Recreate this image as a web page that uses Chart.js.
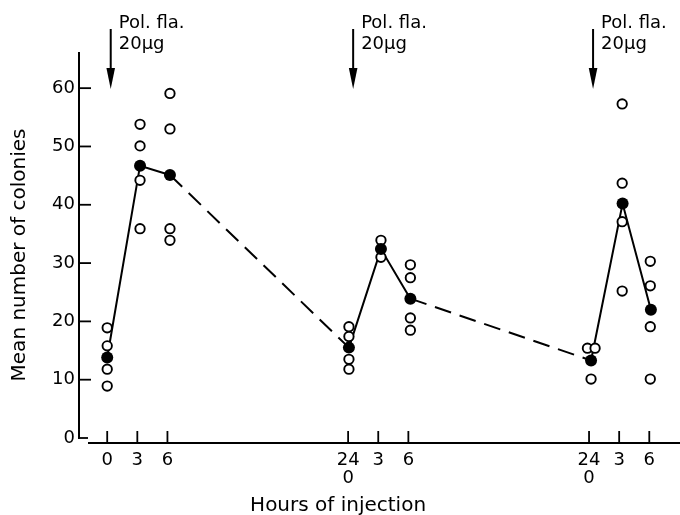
<!DOCTYPE html>
<html>
<head>
<meta charset="utf-8">
<script src="https://cdn.jsdelivr.net/npm/chart.js@4.4.1/dist/chart.umd.min.js"></script>
<style>
html,body{margin:0;padding:0;background:#fff;}
canvas{display:block;}
</style>
</head>
<body>
<canvas id="c" width="680" height="515"></canvas>
<script>
// ---- data ----
const hours = [0, 3, 6, 24, 27, 30, 48, 51, 54];
const tickLabels = ['0', '3', '6', ['24', '0'], '3', '6', ['24', '0'], '3', '6'];
const yTicks = [0, 10, 20, 30, 40, 50, 60];

const meanHours = [0, 3.27, 6.25, 24.08, 27.27, 30.2, 48.2, 51.34, 54.16];
const meanColonies = [13.8, 46.7, 45.1, 15.5, 32.4, 23.9, 13.3, 40.2, 22.0];

const sampleHours = [
  0, 0, 0, 0,
  3.27, 3.27, 3.27, 3.27,
  6.25, 6.25, 6.25, 6.25,
  24.08, 24.08, 24.08, 24.08,
  27.27, 27.27,
  30.2, 30.2, 30.2, 30.2,
  47.84, 48.6, 48.2,
  51.3, 51.3, 51.3, 51.3,
  54.1, 54.1, 54.1, 54.1
];
const sampleColonies = [
  18.9, 15.8, 11.8, 8.9,
  53.8, 50.1, 44.2, 35.9,
  59.1, 53.0, 35.9, 33.9,
  19.1, 17.4, 13.5, 11.8,
  33.9, 31.0,
  29.7, 27.5, 20.6, 18.5,
  15.4, 15.4, 10.1,
  57.3, 43.7, 37.1, 25.2,
  30.3, 26.1, 19.1, 10.1
];

const injectionHours = [0.35, 24.5, 48.4];
const injectionText = ['Pol. fla.', '20\u03bcg'];
const xTitle = 'Hours of injection';
const yTitle = 'Mean number of colonies';

const FONT = "'DejaVu Sans', 'Liberation Sans', sans-serif";

const meanPts = meanHours.map((x, i) => ({x: x, y: meanColonies[i]}));
const samplePts = sampleHours.map((x, i) => ({x: x, y: sampleColonies[i]}));

const axesPlugin = {
  id: 'customAxes',
  beforeDatasetsDraw(chart) {
    const ctx = chart.ctx;
    const xs = chart.scales.x, ys = chart.scales.y;
    const a = chart.chartArea;
    const L = a.left;
    const y0 = ys.getPixelForValue(0);
    ctx.save();
    ctx.strokeStyle = '#000';
    ctx.lineCap = 'butt';
    // y axis
    ctx.lineWidth = 2;
    ctx.beginPath();
    ctx.moveTo(L, a.top);
    ctx.lineTo(L, y0 + 1);
    ctx.stroke();
    ctx.lineWidth = 1.8;
    yTicks.forEach(v => {
      const py = ys.getPixelForValue(v);
      ctx.beginPath();
      ctx.moveTo(L, py);
      ctx.lineTo(L + (v === 0 ? 9 : 12), py);
      ctx.stroke();
    });
    // x axis (slightly below zero, detached from y axis)
    const xa = y0 + 5;
    ctx.lineWidth = 2.2;
    ctx.beginPath();
    ctx.moveTo(L + 9, xa);
    ctx.lineTo(chart.width, xa);
    ctx.stroke();
    ctx.lineWidth = 1.8;
    hours.forEach(h => {
      const px = xs.getPixelForValue(h);
      ctx.beginPath();
      ctx.moveTo(px, xa);
      ctx.lineTo(px, xa - 12);
      ctx.stroke();
    });
    ctx.restore();
  },
  afterDraw(chart) {
    const ctx = chart.ctx;
    const xs = chart.scales.x, ys = chart.scales.y;
    const a = chart.chartArea;
    ctx.save();
    ctx.fillStyle = '#000';
    ctx.strokeStyle = '#000';
    // injection arrows + labels
    injectionHours.forEach(h => {
      const px = xs.getPixelForValue(h);
      const yStart = a.top - 23, yTip = a.top + 37;
      ctx.lineWidth = 2;
      ctx.beginPath();
      ctx.moveTo(px, yStart);
      ctx.lineTo(px, yTip - 18);
      ctx.stroke();
      ctx.beginPath();
      ctx.moveTo(px, yTip);
      ctx.lineTo(px - 4.3, yTip - 21);
      ctx.lineTo(px + 4.3, yTip - 21);
      ctx.closePath();
      ctx.fill();
      ctx.font = '18px ' + FONT;
      ctx.textAlign = 'left';
      ctx.textBaseline = 'alphabetic';
      ctx.fillText(injectionText[0], px + 8, a.top - 24);
      ctx.fillText(injectionText[1], px + 8, a.top - 3);
    });
    // axis titles
    ctx.font = '20px ' + FONT;
    ctx.textAlign = 'center';
    ctx.textBaseline = 'middle';
    ctx.fillText(xTitle, xs.getPixelForValue(23), chart.height - 9);
    ctx.translate(20, (a.top + ys.getPixelForValue(0)) / 2 + 10);
    ctx.rotate(-Math.PI / 2);
    ctx.fillText(yTitle, 0, 0);
    ctx.restore();
  }
};

new Chart(document.getElementById('c'), {
  type: 'scatter',
  data: {
    datasets: [
      {
        type: 'line',
        data: meanPts,
        borderColor: '#000',
        borderWidth: 2,
        pointRadius: 0,
        fill: false,
        tension: 0,
        clip: false,
        order: 3,
        segment: {
          borderDash: c => (c.p1.parsed.x - c.p0.parsed.x > 10 ? [17, 9] : undefined)
        }
      },
      {
        data: samplePts,
        pointRadius: 4.7,
        pointBorderWidth: 1.9,
        pointBackgroundColor: '#fff',
        pointBorderColor: '#000',
        clip: false,
        order: 2
      },
      {
        data: meanPts,
        pointRadius: 6,
        pointBorderWidth: 0,
        pointBackgroundColor: '#000',
        pointBorderColor: '#000',
        clip: false,
        order: 1
      }
    ]
  },
  options: {
    responsive: false,
    animation: false,
    events: [],
    layout: {autoPadding: false, padding: {top: 52, left: 0, right: 0, bottom: 0}},
    plugins: {legend: {display: false}, tooltip: {enabled: false}},
    scales: {
      x: {
        type: 'linear',
        min: -2.81,
        max: 57.06,
        grid: {display: false, drawTicks: false},
        border: {display: false},
        afterBuildTicks: s => { s.ticks = hours.map(v => ({value: v})); },
        afterFit: s => { s.height = 77; s.paddingLeft = 0; s.paddingRight = 0; },
        ticks: {
          callback: (v, i) => tickLabels[i],
          color: '#000',
          font: {family: FONT, size: 18, lineHeight: 1.0},
          padding: 13,
          maxRotation: 0,
          autoSkip: false
        }
      },
      y: {
        type: 'linear',
        min: 0,
        max: 66.2,
        grid: {display: false, drawTicks: false},
        border: {display: false},
        afterBuildTicks: s => { s.ticks = yTicks.map(v => ({value: v})); },
        afterFit: s => { s.width = 79; s.paddingTop = 0; s.paddingBottom = 0; },
        ticks: {
          color: '#000',
          font: {family: FONT, size: 18},
          padding: 4
        }
      }
    }
  },
  plugins: [axesPlugin]
});
</script>
</body>
</html>
